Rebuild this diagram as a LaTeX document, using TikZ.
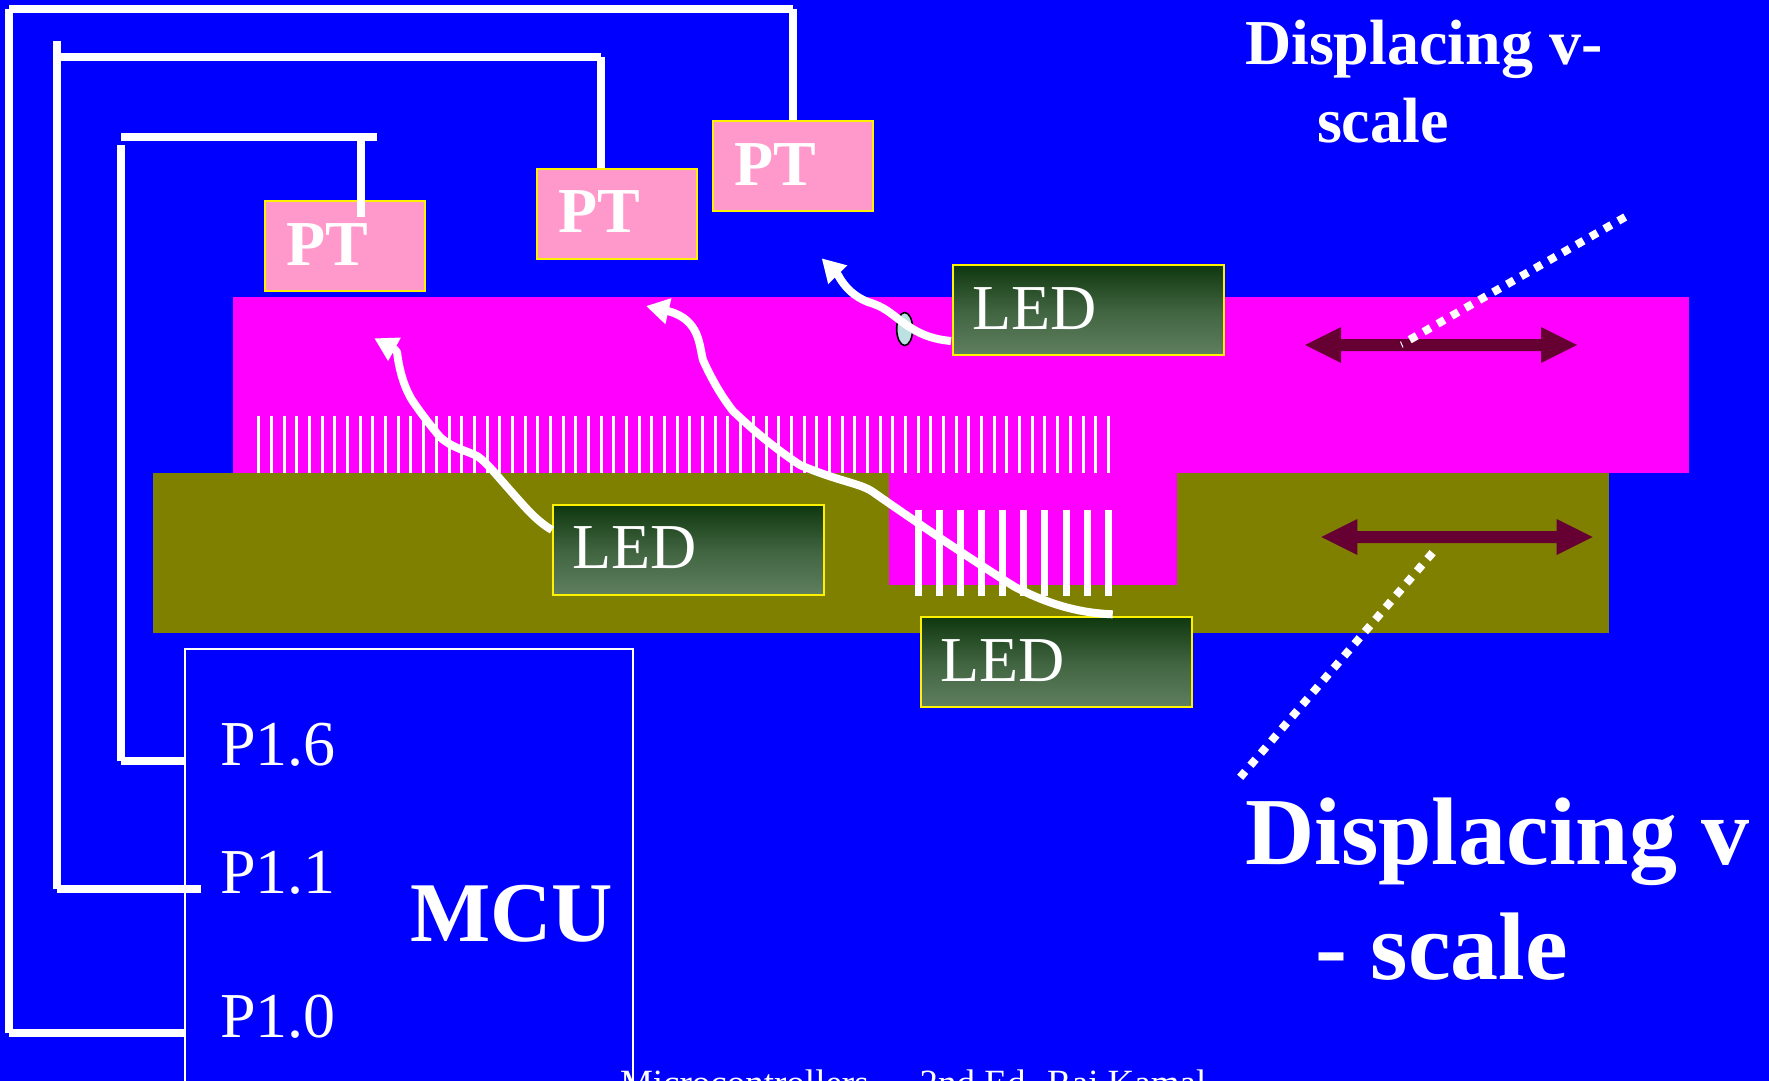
\documentclass[tikz,border=0pt]{standalone}
\usepackage{fontspec}
\setmainfont{Liberation Serif}
\usetikzlibrary{arrows.meta,shapes.geometric}
\definecolor{bgblue}{HTML}{0000FF}
\definecolor{mag}{HTML}{FF00FF}
\definecolor{oliv}{HTML}{808000}
\definecolor{ptpink}{HTML}{FF99CC}
\definecolor{ledtop}{HTML}{0F380F}
\definecolor{ledbot}{HTML}{608060}
\definecolor{darkarrow}{HTML}{660033}
\definecolor{lens}{HTML}{BDE0E3}
\tikzset{
  x=1pt,y=-1pt,
  wire/.style={draw=white,line width=8pt,line cap=butt},
  ptbox/.style={draw=yellow,line width=2.2pt,fill=ptpink,minimum width=160pt,minimum height=90pt,anchor=north west,inner sep=0pt},
  ledbox/.style={draw=yellow,line width=2.2pt,top color=ledtop,bottom color=ledbot,middle color=ledbot!60!ledtop,minimum width=271pt,minimum height=90pt,anchor=north west,inner sep=0pt},
  lab/.style={text=white,anchor=base west,inner sep=0pt,outer sep=0pt},
  rays/.style={-{Triangle[length=23pt,width=25pt]},draw=white,fill=none,line width=8pt,line join=round},
  dots/.style={draw=white,line width=8pt,dash pattern=on 8pt off 8pt},
  dbl/.style={fill=darkarrow,draw=none},
}
\newcommand{\fs}[1]{\fontsize{#1pt}{#1pt}\selectfont}
\newcommand{\dblarrow}[3]{% left tip x, right tip x, y
  \fill[dbl] (#1,#3) -- (#1+36,#3-18) -- (#1+36,#3-6) -- (#2-36,#3-6) -- (#2-36,#3-18) -- (#2,#3) -- (#2-36,#3+18) -- (#2-36,#3+6) -- (#1+36,#3+6) -- (#1+36,#3+18) -- cycle;}
\begin{document}
\begin{tikzpicture}
\useasboundingbox (0,0) rectangle (1769,1081);
\clip (0,0) rectangle (1769,1081);
\fill[bgblue] (0,0) rectangle (1769,1081);
% bars
\fill[mag] (233,297) rectangle (1689,473);
\fill[oliv] (153,473) rectangle (1609,633);
\fill[mag] (889,473) rectangle (1177,585);
% combs
\foreach \i in {0,...,67} \fill[white] ({258.8+12.68*\i-1.5},416) rectangle ({258.8+12.68*\i+1.5},473);
\foreach \i in {0,...,9} \fill[white] ({918.3+21.11*\i-3.5},510) rectangle ({918.3+21.11*\i+3.5},596);
% MCU
\node[draw=white,line width=2pt,minimum width=448pt,minimum height=500pt,anchor=north west,inner sep=0pt] (mcu) at (184,648) {};
% PT boxes
\node[ptbox] (pta) at (264,200) {};
\node[ptbox] (ptb) at (536,168) {};
\node[ptbox] (ptc) at (712,120) {};
\node[lab,font=\fs{64}\bfseries] (ptat) at (286,265) {PT};
\node[lab,font=\fs{64}\bfseries] (ptbt) at (558,232) {PT};
\node[lab,font=\fs{64}\bfseries] (ptct) at (734,185) {PT};
% wires
\coordinate (p10) at (mcu.west |- 0,1033);
\coordinate (p11) at (201,889);
\coordinate (p16) at (mcu.west |- 0,761);
\coordinate (c3) at (793,9);
\coordinate (c2) at (601,57);
\draw[wire] (p10) -- (9,1033);
\draw[wire] (9,1033) -- (9,9);
\draw[wire] (9,9) -- (c3);
\draw[wire] (c3) -- (ptc.north -| c3);
\draw[wire] (p11) -- (57,889);
\draw[wire] (57,889) -- (57,41);
\draw[wire] (57,57) -- (c2);
\draw[wire] (c2) -- (ptb.north -| c2);
\draw[wire] (p16) -- (121,761);
\draw[wire] (121,761) -- (121,145);
\draw[wire] (121,137) -- (377,137);
\draw[wire] (361,137) -- (361,217);
% LED boxes
\node[ledbox] (leda) at (952,264) {};
\node[ledbox] (ledb) at (552,504) {};
\node[ledbox] (ledc) at (920,616) {};
\node[lab,font=\fs{64}] (ledat) at (972,329) {LED};
\node[lab,font=\fs{64}] (ledbt) at (572,568) {LED};
\node[lab,font=\fs{64}] (ledct) at (940,681) {LED};
% lens
\node[draw=black,line width=1.6pt,fill=lens,ellipse,minimum width=16pt,minimum height=33pt,inner sep=0pt] (lensn) at (904.7,329) {};
% rays
\draw[rays] (951,341) .. controls (930,339) and (918,333) .. (905,324)
  .. controls (890,313) and (885,307) .. (868,302)
  .. controls (855,297) and (845,288) .. (838,275) -- (821.7,258.3);
\draw[rays] (552,530) .. controls (535,520) and (525,507) .. (501,480)
  .. controls (490,467) and (482,459) .. (477,456)
  .. controls (465,450) and (452,448) .. (440,437)
  .. controls (430,425) and (420,412) .. (412,400)
  .. controls (403,385) and (399,368) .. (397,352) -- (394.5,349.3) -- (374.3,338.3);
\draw[rays] (1112.7,614.3) .. controls (1080,613) and (1050,605) .. (1015,587)
  .. controls (980,565) and (920,525) .. (873,492)
  .. controls (860,483) and (840,482) .. (800,465)
  .. controls (770,445) and (750,427) .. (733,411)
  .. controls (722,397) and (712,380) .. (703,360)
  .. controls (699,345) and (700,320) .. (668.8,311.3) -- (646,306);
% double arrows
\dblarrow{1305}{1577}{345}
\dblarrow{1321.3}{1592.7}{537}
% dotted
\draw[dots] (1625.2,217) -- (1409.2,340);
\draw[white,line width=1pt] (1400.5,341.5) -- (1403,347.5);
\draw[dots] (1432.6,552.7) -- (1240.2,777.3);
% text
\node[lab,font=\fs{64}\bfseries] (t1) at (1245,65) {Displacing v-};
\node[lab,font=\fs{64}\bfseries] (t2) at (1317,142) {scale};
\node[lab,font=\fs{96}\bfseries] (t3) at (1245,864.5) {Displacing v};
\node[lab,font=\fs{96}\bfseries] (t4) at (1315,979) {- scale};
\node[lab,font=\fs{64}] (p6) at (220,765) {P1.6};
\node[lab,font=\fs{64}] (p1) at (220,893) {P1.1};
\node[lab,font=\fs{64}] (p0) at (220,1037) {P1.0};
\node[lab,font=\fs{85}\bfseries] (mcut) at (410,941) {MCU};
\node[lab,font=\fs{37}] (foot) at (620,1095) {Microcontrollers\hspace{51pt}2nd Ed. Raj Kamal};
\end{tikzpicture}
\end{document}
